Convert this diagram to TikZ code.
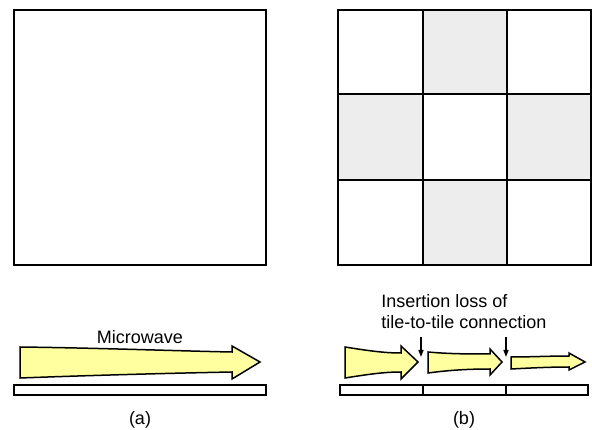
\documentclass[tikz,border=0pt]{standalone}
\usepackage{fontspec}
\setmainfont{Liberation Sans}
\usetikzlibrary{arrows.meta}
\definecolor{waveyellow}{RGB}{255,255,160}
\definecolor{tilegray}{RGB}{237,237,237}
\tikzset{
  tile/.style={draw=black,line width=2pt},
  wave/.style={draw=black,fill=waveyellow,line width=1.5pt,line join=miter},
  base/.style={draw=black,fill=white,line width=1.5pt},
  lbl/.style={font=\fontsize{18}{21}\selectfont,inner sep=0pt},
  loss/.style={-{Triangle[length=7pt,width=5pt]},line width=1.4pt}
}
\begin{document}
\begin{tikzpicture}[x=1pt,y=-1pt]
\useasboundingbox (0,0) rectangle (592,430);
% (a) single plate
\draw[tile] (14,10) rectangle (266,265);
\draw[wave] (20,347) .. controls (100,348) and (180,351) .. (232,352) -- (232,346)
  -- (260,362) -- (232,379) -- (232,372) .. controls (180,373) and (100,375) .. (20,378) -- cycle;
\draw[base] (14,385) rectangle (266,395);
\node[lbl] (mw) at (140,337) {Microwave};
\node[lbl] (capa) at (140,420) {(a)};
% (b) 3x3 tiles
\fill[tilegray] (423,10) rectangle (507,94);
\fill[tilegray] (338,94) rectangle (423,180);
\fill[tilegray] (507,94) rectangle (591,180);
\fill[tilegray] (423,180) rectangle (507,265);
\draw[tile] (338,10) rectangle (591,265);
\draw[tile] (423,10) -- (423,265);
\draw[tile] (507,10) -- (507,265);
\draw[tile] (338,94) -- (591,94);
\draw[tile] (338,180) -- (591,180);
\draw[wave] (345,347) .. controls (370,351) and (385,353) .. (401,353) -- (401,346)
  -- (418,362) -- (401,379) -- (401,372) .. controls (385,372) and (370,374) .. (345,378) -- cycle;
\draw[wave] (428,352) .. controls (450,354) and (470,354) .. (490,354) -- (490,349)
  -- (502,362) -- (490,375) -- (490,369) .. controls (470,369) and (450,370) .. (428,373) -- cycle;
\draw[wave] (511,357) .. controls (530,357) and (550,356) .. (569,356) -- (569,353)
  -- (585,362) -- (569,370) -- (569,367) .. controls (550,367) and (530,368) .. (511,369) -- cycle;
\draw[base] (340,385) rectangle (588,395);
\draw[base] (423,385) -- (423,395);
\draw[base] (506,385) -- (506,395);
\node[lbl,align=left] (txt) at (464,312) {Insertion loss of\\tile-to-tile connection};
\coordinate (j1) at (421,337);
\coordinate (j1e) at (421,357);
\coordinate (j2) at (506,337);
\coordinate (j2e) at (506,357);
\draw[loss] (j1) -- (j1e);
\draw[loss] (j2) -- (j2e);
\node[lbl] (capb) at (464,420) {(b)};
\end{tikzpicture}
\end{document}
